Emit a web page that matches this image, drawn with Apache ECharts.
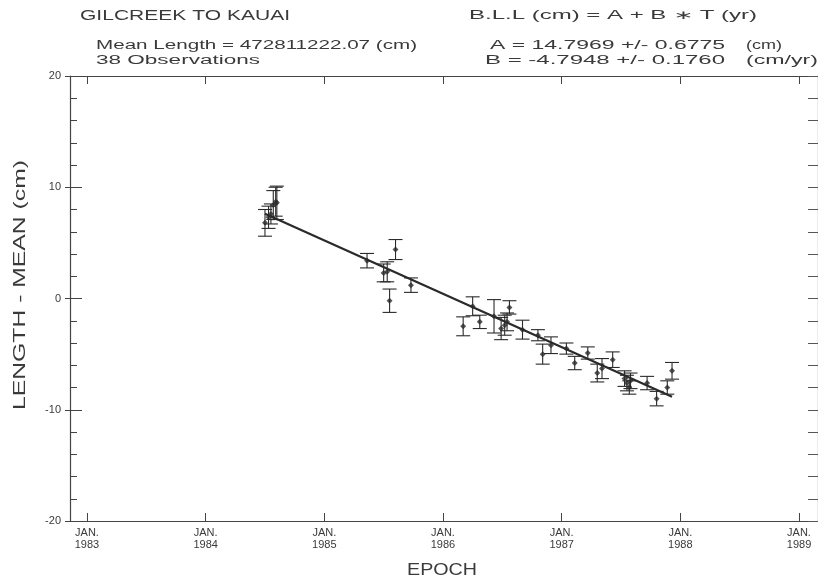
<!DOCTYPE html>
<html>
<head>
<meta charset="utf-8">
<script src="https://cdn.jsdelivr.net/npm/echarts@6/dist/echarts.min.js"></script>
<style>html,body{margin:0;padding:0;background:#fff;}#c{width:818px;height:580px;}</style>
</head>
<body>
<div id="c"></div>
<script>
// ---- data ----
const epochs = [1984.50,1984.53,1984.55,1984.57,1984.59,1984.60,
  1985.36,1985.50,1985.53,1985.55,1985.60,1985.73,
  1986.17,1986.25,1986.31,1986.43,1986.49,1986.52,1986.54,1986.56,1986.67,
  1986.80,1986.84,1986.91,1987.04,1987.11,1987.22,
  1987.30,1987.34,1987.43,1987.53,1987.55,1987.57,1987.58,1987.72,1987.80,1987.89,1987.93];
const residuals = [6.8,7.3,7.6,8.4,8.7,8.6,
  3.4,2.3,2.4,-0.2,4.4,1.2,
  -2.5,-0.7,-2.1,-1.6,-2.7,-2.4,-2.1,-0.8,-2.8,
  -3.3,-5.0,-4.2,-4.5,-5.8,-4.9,
  -6.7,-6.3,-5.5,-7.2,-7.6,-8.0,-7.4,-7.6,-9.0,-8.0,-6.5];
const sigmas = [1.2,1.0,0.9,1.3,1.3,1.5,
  0.65,0.8,0.9,1.05,0.9,0.65,
  0.85,0.85,0.6,1.5,1.0,0.9,0.8,0.6,0.85,
  0.5,0.9,0.75,0.5,0.6,0.55,
  0.8,0.9,0.7,0.7,0.7,0.6,0.7,0.6,0.65,0.6,0.75];
const fitEpochs = [1984.50, 1987.93];
const fitValues = [7.61, -8.84];
const yearTicks = [1983,1984,1985,1986,1987,1988,1989];
const yTicks = [-20,-10,0,10,20];

// ---- layout ----
const INK = '#2a2a2a';
const TXT = '#3a3a3a';
const FONT = "'Liberation Sans', 'DejaVu Sans', sans-serif";
const ctx = document.createElement('canvas').getContext('2d');
function fitText(text, x, y, w, size, opts) {
  opts = opts || {};
  ctx.font = size + 'px ' + FONT;
  const m = ctx.measureText(text).width;
  return {
    type: 'text', x: x, y: y, rotation: opts.rotation || 0,
    scaleX: w / m, silent: true,
    style: {
      text: text, font: size + 'px ' + FONT, fill: opts.fill || TXT,
      textAlign: opts.align || 'left', align: opts.align || 'left',
      textVerticalAlign: 'middle', verticalAlign: 'middle'
    }
  };
}

const chart = echarts.init(document.getElementById('c'), null, {renderer: 'canvas'});
const XMIN = 1982.857, XMAX = 1989.160;
const gridCfg = {left: 70, right: -2, top: 76, height: 445};
const baseX = {type: 'value', min: XMIN, max: XMAX, splitLine: {show: false}};

chart.setOption({
  animation: false,
  backgroundColor: '#fff',
  grid: gridCfg,
  xAxis: [
    Object.assign({}, baseX, {
      position: 'bottom',
      axisLine: {show: true, onZero: false, lineStyle: {color: '#444', width: 1.2}},
      axisTick: {show: true, inside: true, length: 8, customValues: yearTicks, lineStyle: {color: '#444'}},
      axisLabel: {show: true, customValues: yearTicks, margin: 6, color: TXT, fontFamily: FONT, fontSize: 11, lineHeight: 12,
        formatter: v => 'JAN.\n' + Math.round(v)}
    }),
    Object.assign({}, baseX, {
      position: 'top',
      axisLine: {show: true, onZero: false, lineStyle: {color: '#444', width: 1.2}},
      axisTick: {show: true, inside: true, length: 8, customValues: yearTicks, lineStyle: {color: '#444'}},
      axisLabel: {show: false}
    })
  ],
  yAxis: [
    {type: 'value', min: -20, max: 20, interval: 10, position: 'left',
      splitLine: {show: false},
      axisLine: {show: true, onZero: false, lineStyle: {color: '#444', width: 1.2}},
      axisTick: {show: true, inside: true, length: 12, lineStyle: {color: '#444'}},
      minorTick: {show: true, splitNumber: 5, length: 7, lineStyle: {color: '#444'}},
      axisLabel: {show: true, margin: 9, color: TXT, fontFamily: FONT, fontSize: 11,
        customValues: yTicks, formatter: v => String(v)}
    },
    {type: 'value', min: -20, max: 20, interval: 10, position: 'left',
      splitLine: {show: false},
      axisLine: {show: false},
      axisTick: {show: true, inside: false, length: 5, lineStyle: {color: '#444'}},
      axisLabel: {show: false}
    },
    {type: 'value', min: -20, max: 20, interval: 10, position: 'right',
      splitLine: {show: false},
      axisLine: {show: true, onZero: false, lineStyle: {color: '#444', width: 1.2}},
      axisTick: {show: true, inside: true, length: 10, lineStyle: {color: '#555'}},
      minorTick: {show: true, splitNumber: 5, length: 10, lineStyle: {color: '#555'}},
      axisLabel: {show: false}
    }
  ],
  series: [
    {
      type: 'custom', xAxisIndex: 0, yAxisIndex: 0, clip: true,
      data: epochs.map((t, i) => [t, residuals[i], sigmas[i]]),
      encode: {x: 0, y: 1},
      renderItem: function (params, api) {
        const x = api.value(0), y = api.value(1), e = api.value(2);
        const top = api.coord([x, y + e]);
        const bot = api.coord([x, y - e]);
        const cw = 7;
        const st = {stroke: INK, lineWidth: 1.1};
        return {type: 'group', children: [
          {type: 'line', shape: {x1: top[0], y1: top[1], x2: bot[0], y2: bot[1]}, style: st},
          {type: 'line', shape: {x1: top[0] - cw, y1: top[1], x2: top[0] + cw, y2: top[1]}, style: st},
          {type: 'line', shape: {x1: bot[0] - cw, y1: bot[1], x2: bot[0] + cw, y2: bot[1]}, style: st}
        ]};
      },
      z: 2
    },
    {
      type: 'line', xAxisIndex: 0, yAxisIndex: 0,
      data: fitEpochs.map((t, i) => [t, fitValues[i]]),
      showSymbol: false, symbol: 'none',
      lineStyle: {color: INK, width: 2.2}, z: 3
    },
    {
      type: 'scatter', xAxisIndex: 0, yAxisIndex: 0,
      data: epochs.map((t, i) => [t, residuals[i]]),
      symbol: 'diamond', symbolSize: 6,
      itemStyle: {color: INK}, z: 4
    }
  ],
  graphic: [
    fitText('GILCREEK TO KAUAI', 80, 16, 210, 14),
    fitText('B.L.L (cm) = A + B \u2217 T (yr)', 469, 16, 288, 12),
    fitText('Mean Length = 472811222.07 (cm)', 96, 46, 321, 12),
    fitText('38 Observations', 96, 61, 164, 12),
    fitText('A = 14.7969 +/- 0.6775', 490, 46, 235, 12),
    fitText('(cm)', 746, 46, 36, 12),
    fitText('B = -4.7948 +/- 0.1760', 485, 61, 240, 12),
    fitText('(cm/yr)', 746, 61, 72, 12),
    fitText('LENGTH - MEAN (cm)', 21, 285, 250, 16, {rotation: Math.PI / 2, align: 'center'}),
    fitText('EPOCH', 442, 571, 70, 16, {align: 'center'})
  ]
});
</script>
</body>
</html>
